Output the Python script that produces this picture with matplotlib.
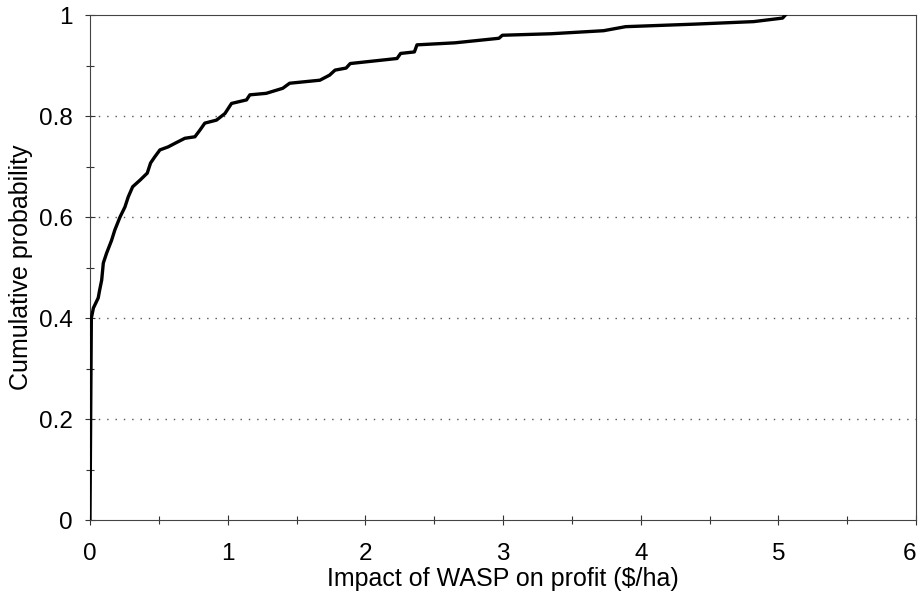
import matplotlib.pyplot as plt
from matplotlib.ticker import MultipleLocator, FuncFormatter

# cumulative distribution
impact = [0.0, 0.005, 0.01, 0.025, 0.06, 0.07, 0.085, 0.097, 0.12, 0.157,
          0.18, 0.218, 0.254, 0.278, 0.31, 0.363, 0.416, 0.44, 0.47, 0.508,
          0.568, 0.617, 0.689, 0.762, 0.798, 0.834, 0.919, 0.98, 1.028, 1.137,
          1.161, 1.28, 1.40, 1.45, 1.67, 1.74, 1.78, 1.86, 1.89, 2.23,
          2.256, 2.356, 2.375, 2.65, 2.97, 2.995, 3.35, 3.73, 3.89, 4.39,
          4.82, 5.03, 5.05]
cum_prob = [0.0, 0.2, 0.40, 0.42, 0.44, 0.455, 0.475, 0.509, 0.528, 0.554,
            0.574, 0.600, 0.620, 0.640, 0.660, 0.673, 0.687, 0.707, 0.719, 0.733,
            0.739, 0.746, 0.756, 0.759, 0.772, 0.786, 0.792, 0.805, 0.825, 0.832,
            0.842, 0.845, 0.855, 0.865, 0.871, 0.881, 0.891, 0.895, 0.904, 0.914,
            0.924, 0.927, 0.941, 0.945, 0.954, 0.960, 0.963, 0.969, 0.977, 0.982,
            0.987, 0.994, 1.0]

x_ticks = [0, 1, 2, 3, 4, 5, 6]
y_ticks = [0, 0.2, 0.4, 0.6, 0.8, 1.0]
grid_levels = [0.2, 0.4, 0.6, 0.8]

plt.rcParams['font.family'] = ['Liberation Sans', 'DejaVu Sans']

fig = plt.figure(figsize=(9.18, 6.02), dpi=100)
ax = fig.add_axes([0.098, 0.136, 0.900, 0.839])

for g in grid_levels:
    ax.axhline(g, color='#555555', lw=1.0, ls=(0, (1, 5)), zorder=1)

ax.plot(impact, cum_prob, color='black', lw=2.4, solid_joinstyle='round', zorder=3)

ax.set_xlim(0, 6)
ax.set_ylim(0, 1)
ax.set_xticks(x_ticks)
ax.set_yticks(y_ticks)
ax.xaxis.set_minor_locator(MultipleLocator(0.5))
ax.yaxis.set_minor_locator(MultipleLocator(0.1))
ax.yaxis.set_major_formatter(FuncFormatter(lambda v, _: f'{v:g}'))
ax.tick_params(which='both', direction='inout', length=7, width=0.8, color='#333333',
               labelsize=17.5)
ax.tick_params(which='minor', length=6)
ax.tick_params(axis='x', which='major', pad=13)
ax.tick_params(axis='y', which='major', pad=9)

# last x label sits against the picture edge
ax.get_xticklabels()[-1].set_horizontalalignment('right')

for s in ax.spines.values():
    s.set_color('#444444')
    s.set_linewidth(0.8)

ax.set_xlabel('Impact of WASP on profit ($/ha)', fontsize=18)
ax.set_ylabel('Cumulative probability', fontsize=18)
ax.xaxis.set_label_coords(0.5, -0.093)
ax.yaxis.set_label_coords(-0.069, 0.5)

fig.savefig('out.png', dpi=100)
